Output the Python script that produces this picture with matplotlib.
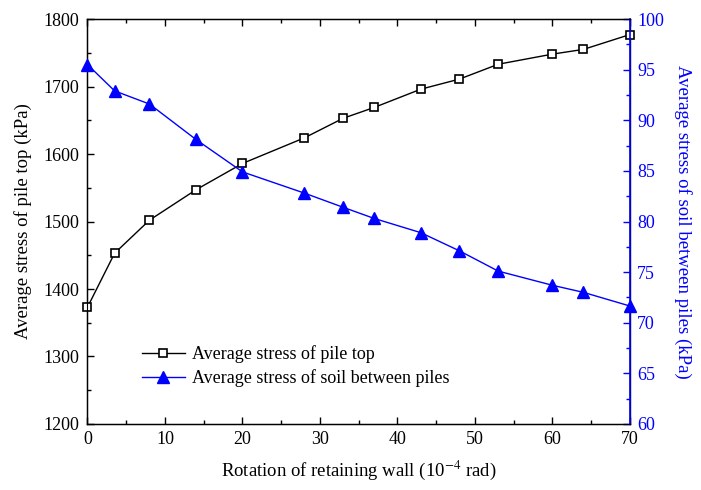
import matplotlib

matplotlib.use("Agg")
import matplotlib.pyplot as plt
from matplotlib.ticker import MultipleLocator

ROTATION_PILE = [0, 3.5, 8, 14, 20, 28, 33, 37, 43, 48, 53, 60, 64, 70]
PILE_TOP_STRESS = [1373, 1453, 1502, 1547, 1586, 1624, 1653, 1669, 1696, 1711, 1733, 1748, 1755, 1777]

ROTATION_SOIL = [0, 3.5, 8, 14, 20, 28, 33, 37, 43, 48, 53, 60, 64, 70]
SOIL_STRESS = [95.5, 92.9, 91.6, 88.1, 84.9, 82.8, 81.4, 80.3, 78.9, 77.1, 75.1, 73.7, 73.0, 71.65]

BLUE = "#0000ff"
TICK_SIZE = 13
LABEL_SIZE = 13.5

plt.rcParams["font.family"] = ["Liberation Serif", "DejaVu Serif"]
plt.rcParams["mathtext.fontset"] = "stix"


def main() -> None:
    fig = plt.figure(figsize=(7.01, 4.90), dpi=100)
    ax = fig.add_axes([0.1248, 0.1347, 0.7739, 0.8265])
    ax2 = ax.twinx()

    (h1,) = ax.plot(
        ROTATION_PILE, PILE_TOP_STRESS, color="black", linewidth=1.0,
        marker="s", markersize=5.5, markerfacecolor="white", markeredgecolor="black",
        markeredgewidth=1.2, label="Average stress of pile top", clip_on=False, zorder=3,
    )
    (h2,) = ax2.plot(
        ROTATION_SOIL, SOIL_STRESS, color=BLUE, linewidth=1.0,
        marker="^", markersize=8.5, markerfacecolor=BLUE, markeredgecolor=BLUE,
        label="Average stress of soil between piles", clip_on=False, zorder=3,
    )

    ax.set_xlim(0, 70)
    ax.set_ylim(1200, 1800)
    ax2.set_ylim(60, 100)

    ax.xaxis.set_major_locator(MultipleLocator(10))
    ax.xaxis.set_minor_locator(MultipleLocator(5))
    ax.yaxis.set_major_locator(MultipleLocator(100))
    ax.yaxis.set_minor_locator(MultipleLocator(50))
    ax2.yaxis.set_major_locator(MultipleLocator(5))
    ax2.yaxis.set_minor_locator(MultipleLocator(2.5))

    ax.tick_params(axis="x", which="both", direction="in", top=True, labelsize=TICK_SIZE, pad=5)
    ax.tick_params(axis="y", which="both", direction="in", labelsize=TICK_SIZE, pad=6)
    ax.tick_params(which="major", length=5, width=1)
    ax.tick_params(which="minor", length=3, width=1)
    ax2.tick_params(axis="y", which="both", direction="in", colors=BLUE, labelsize=TICK_SIZE, pad=5)
    ax2.tick_params(which="major", length=5, width=1)
    ax2.tick_params(which="minor", length=3, width=1)

    for spine in ax.spines.values():
        spine.set_linewidth(1.0)
    ax2.spines["right"].set_color(BLUE)
    ax2.spines["right"].set_linewidth(1.2)

    ax.set_xlabel("Rotation of retaining wall (10$^{-4}$ rad)", fontsize=LABEL_SIZE, labelpad=8)
    ax.set_ylabel("Average stress of pile top (kPa)", fontsize=LABEL_SIZE, labelpad=8)
    ax2.set_ylabel("Average stress of soil between piles (kPa)", fontsize=LABEL_SIZE, color=BLUE,
                   rotation=270, labelpad=20)

    ax2.legend(
        handles=[h1, h2], loc="center left", bbox_to_anchor=(0.100, 0.143),
        frameon=False, fontsize=TICK_SIZE, handlelength=2.4, handletextpad=0.4,
        labelspacing=0.35, borderaxespad=0, borderpad=0,
    )

    fig.savefig("out.png", dpi=100)
    plt.close(fig)


if __name__ == "__main__":
    main()
